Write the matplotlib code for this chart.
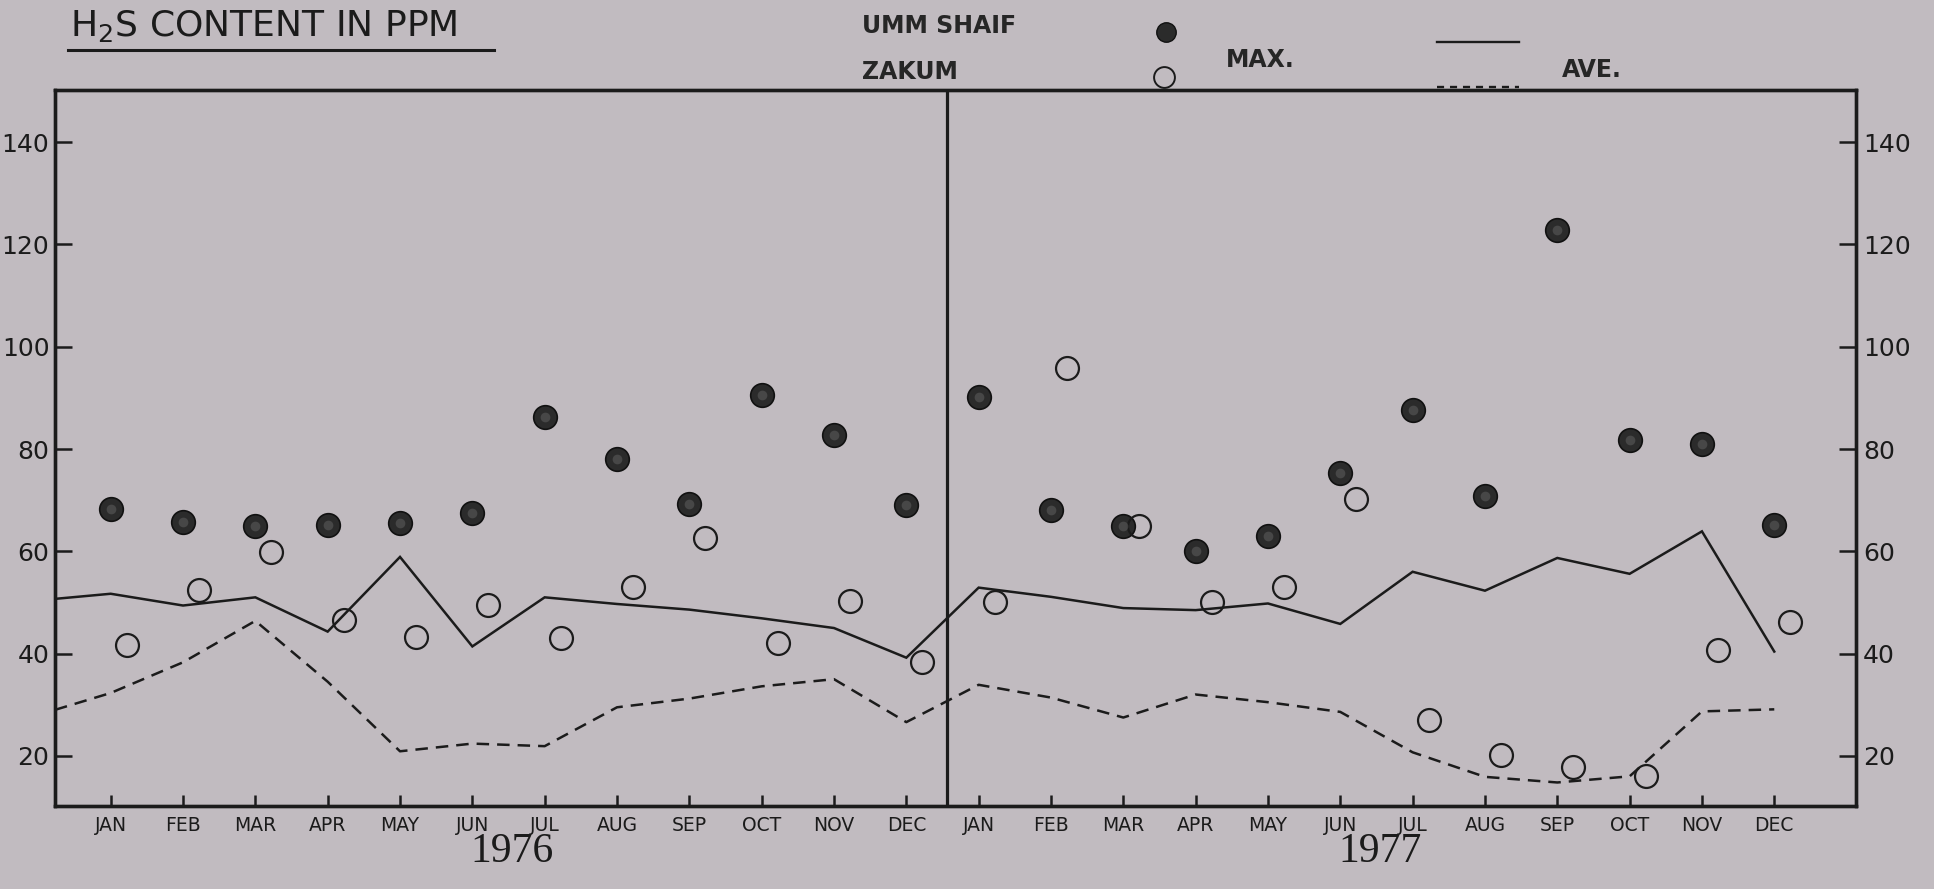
import numpy as np
import matplotlib
matplotlib.use("Agg")
import matplotlib.pyplot as plt
from matplotlib.lines import Line2D

# ---------------- data ----------------
months = ['JAN', 'FEB', 'MAR', 'APR', 'MAY', 'JUN',
          'JUL', 'AUG', 'SEP', 'OCT', 'NOV', 'DEC']
years = ['1976', '1977']
yticks = [20, 40, 60, 80, 100, 120, 140]

# Umm Shaif (filled dots), ppm
umm_shaif_1976 = [68.3, 65.8, 64.9, 65.2, 65.6, 67.5, 86.3, 78.0, 69.3, 90.5, 82.8, 69.1]
umm_shaif_1977 = [90.1, 68.1, 65.0, 60.0, 63.0, 75.3, 87.6, 70.8, 122.9, 81.8, 81.0, 65.2]

# Zakum (open circles), ppm
zakum_1976 = [41.7, 52.5, 59.9, 46.5, 43.2, 49.5, 43.1, 53.0, 62.6, 42.1, 50.3, 38.4]
zakum_1977 = [50.1, 95.8, 65.0, 50.0, 53.1, 70.2, 27.1, 20.2, 17.8, 16.1, 40.7, 46.1]

# MAX. (solid line) and AVE. (dashed line); first value is where the line meets the left frame
max_start = 50.7
max_1976 = [51.7, 49.4, 51.0, 44.3, 58.9, 41.4, 51.0, 49.7, 48.6, 46.9, 45.0, 39.2]
max_1977 = [52.9, 51.1, 48.9, 48.5, 49.8, 45.8, 56.0, 52.3, 58.7, 55.6, 63.9, 40.4]
ave_start = 29.0
ave_1976 = [32.3, 38.3, 46.4, 34.5, 20.9, 22.4, 21.9, 29.5, 31.2, 33.6, 35.0, 26.6]
ave_1977 = [33.9, 31.4, 27.5, 32.0, 30.5, 28.6, 20.7, 15.9, 14.8, 16.0, 28.7, 29.1]

# ---------------- style ----------------
PAPER = '#c1bbc0'
INK = '#1b1b1b'
W, H = 1934, 889

fig = plt.figure(figsize=(W / 100, H / 100), dpi=100)
fig.patch.set_facecolor(PAPER)

def fx(px):
    return px / W

def fy(py):
    return 1 - py / H

ax = fig.add_axes([fx(55), fy(806), fx(1856) - fx(55), fy(90) - fy(806)])
ax.set_facecolor(PAPER)

XMIN, XMAX = 0.23, 25.13
YMIN, YMAX = 10.2, 150.2

x_all = np.arange(1, 2 * len(months) + 1)
umm = np.array(umm_shaif_1976 + umm_shaif_1977)
zak = np.array(zakum_1976 + zakum_1977)
mx = np.array([max_start] + max_1976 + max_1977)
av = np.array([ave_start] + ave_1976 + ave_1977)
x_line = np.concatenate([[XMIN], x_all])

ax.plot(x_line, mx, color=INK, lw=1.8, solid_joinstyle='miter', zorder=3)
ax.plot(x_line, av, color=INK, lw=1.8, linestyle=(0, (5, 3.2)), zorder=3)

ax.plot(x_all, umm, 'o', ms=17, mfc='#2b2b2b', mec='#111111', mew=1.2, zorder=4)
ax.plot(x_all, umm, 'o', ms=7, mfc='#5a5a5a', mec='none', alpha=0.6, zorder=5)
ax.plot(x_all + 0.22, zak, 'o', ms=16.5, mfc='none', mec=INK, mew=1.6, zorder=4)

# separator between the two years
ax.axvline(12.56, color=INK, lw=2.3, zorder=2)

ax.set_xlim(XMIN, XMAX)
ax.set_ylim(YMIN, YMAX)

ax2 = ax.twinx()
ax2.set_ylim(YMIN, YMAX)

for a in (ax, ax2):
    for s in a.spines.values():
        s.set_linewidth(2.4)
        s.set_color(INK)

ax.set_xticks(x_all)
ax.set_xticklabels(months * 2, fontsize=13.5, color=INK)

ax.set_yticks(yticks)
ax.set_yticklabels([str(v) for v in yticks], fontsize=18, color='#2a2a2a')
ax2.set_yticks(yticks)
ax2.set_yticklabels([str(v) for v in yticks], fontsize=18, color='#2a2a2a')

ax.tick_params(axis='x', which='both', direction='in', length=8, width=1.8, pad=7,
               colors=INK, top=False, bottom=True)
ax.tick_params(axis='y', which='both', direction='in', length=12, width=1.8, pad=4,
               colors=INK, left=True, right=False, labelleft=True, labelright=False)
ax2.tick_params(axis='y', which='both', direction='in', length=12, width=1.8, pad=5,
                colors=INK, left=False, right=True, labelleft=False, labelright=True)

# year labels
blend = matplotlib.transforms.blended_transform_factory(ax.transData, fig.transFigure)
for i, yr in enumerate(years):
    ax.text(6.55 + 12 * i, fy(852), yr, transform=blend, ha='center', va='center',
            fontsize=30, family='Liberation Serif', color=INK)

# title
fig.text(fx(70), fy(26), r'H$_2$S CONTENT IN PPM', fontsize=26, color=INK,
         ha='left', va='center')
fig.add_artist(Line2D([fx(68), fx(494)], [fy(50), fy(50)], color=INK, lw=2.2))

# legend (drawn in figure coordinates)
fig.text(fx(862), fy(26), 'UMM SHAIF', fontsize=17, fontweight='bold', color='#262626',
         ha='left', va='center')
fig.text(fx(862), fy(72), 'ZAKUM', fontsize=17, fontweight='bold', color='#262626',
         ha='left', va='center')
fig.add_artist(Line2D([fx(1166)], [fy(32)], marker='o', ms=14, mfc='#2b2b2b',
                      mec='#111111', mew=1.0, linestyle='none'))
fig.add_artist(Line2D([fx(1164)], [fy(77)], marker='o', ms=15, mfc='none',
                      mec=INK, mew=1.4, linestyle='none'))
fig.text(fx(1226), fy(60), 'MAX.', fontsize=17, fontweight='bold', color='#262626',
         ha='left', va='center')
fig.add_artist(Line2D([fx(1437), fx(1519)], [fy(42), fy(42)], color=INK, lw=1.7))
fig.add_artist(Line2D([fx(1437), fx(1519)], [fy(87), fy(87)], color=INK, lw=1.7,
                      linestyle=(0, (3, 2.5))))
fig.text(fx(1562), fy(70), 'AVE.', fontsize=17, fontweight='bold', color='#262626',
         ha='left', va='center')

fig.savefig('out.png', dpi=100, facecolor=PAPER)
